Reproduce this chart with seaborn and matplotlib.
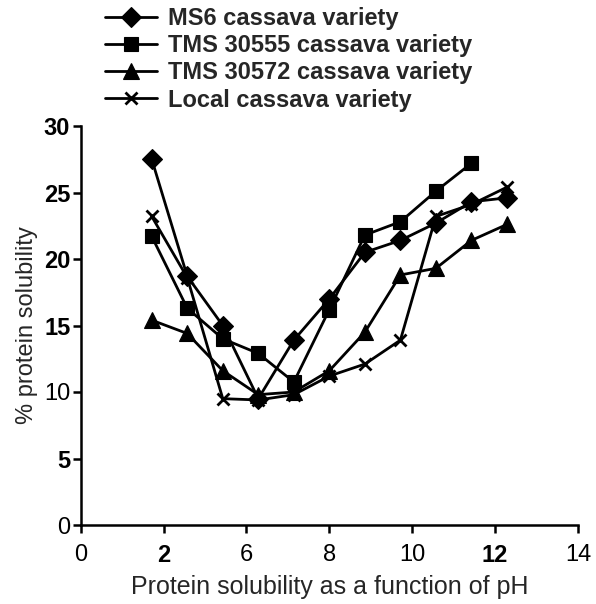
import numpy as np
import pandas as pd
import matplotlib
matplotlib.use("Agg")
import matplotlib.pyplot as plt
import seaborn as sns

# ---- data ----
ph = [2, 3, 4, 5, 6, 7, 8, 9, 10, 11, 12]
ms6 = [27.5, 18.7, 15.0, 9.5, 13.9, 17.0, 20.5, 21.4, 22.7, 24.3, 24.6]
tms30555 = [21.7, 16.3, 14.0, 12.9, 10.75, 16.2, 21.8, 22.8, 25.1, 27.2]
tms30572 = [15.4, 14.4, 11.6, 9.8, 10.0, 11.6, 14.5, 18.8, 19.3, 21.4, 22.6]
local = [23.2, 18.6, 9.5, 9.4, 9.8, 11.2, 12.1, 13.9, 23.2, 24.1, 25.4]

series_names = ["MS6 cassava variety", "TMS 30555 cassava variety",
                "TMS 30572 cassava variety", "Local cassava variety"]
series_values = [ms6, tms30555, tms30572, local]

xtick_labels = ["0", "2", "6", "8", "10", "12", "14"]
xtick_weights = ["normal", "bold", "normal", "normal", "normal", "bold", "normal"]
yticks = [0, 5, 10, 15, 20, 25, 30]
ytick_weights = ["normal", "bold", "normal", "bold", "bold", "bold", "bold"]

# ---- styles ----
markers = ["D", "s", "^", "x"]
msizes = [10, 10, 11.5, 8]

sns.set_style("ticks")
plt.rcParams["font.family"] = ["Liberation Sans", "DejaVu Sans"]

fig = plt.figure(figsize=(5.96, 6.04), dpi=100)
ax = fig.add_axes([80.7 / 596, 1 - 525 / 604, (578 - 80.7) / 596, (525 - 126) / 604])

for name, vals, mk, ms in zip(series_names, series_values, markers, msizes):
    df = pd.DataFrame({"pH": ph[:len(vals)], "solubility": vals})
    sns.lineplot(data=df, x="pH", y="solubility", ax=ax, color="black",
                 linewidth=2.0, marker=mk, markersize=ms,
                 markeredgecolor="black", markerfacecolor="black",
                 markeredgewidth=2.0 if mk == "x" else 0.8,
                 sort=False, label=name, clip_on=False)

ax.set_xlim(0, 14)
ax.set_ylim(0, 30)
ax.set_xticks(np.linspace(0, 14, len(xtick_labels)))
ax.set_xticklabels(xtick_labels)
ax.set_yticks(yticks)
ax.set_yticklabels([str(v) for v in yticks])
for lab, w in zip(ax.get_xticklabels(), xtick_weights):
    lab.set_fontweight(w)
for lab, w in zip(ax.get_yticklabels(), ytick_weights):
    lab.set_fontweight(w)

ax.tick_params(axis="both", labelsize=17, width=1.8, length=5.5, color="black",
               labelcolor="black", direction="out")
ax.tick_params(axis="x", pad=8)
ax.tick_params(axis="y", pad=2)

for s in ["top", "right"]:
    ax.spines[s].set_visible(False)
for s in ["left", "bottom"]:
    ax.spines[s].set_linewidth(1.8)
    ax.spines[s].set_color("black")

ax.set_xlabel("Protein solubility as a function of pH", fontsize=18, labelpad=6)
ax.set_ylabel("% protein solubility", fontsize=17, labelpad=4)

handles, labels = ax.get_legend_handles_labels()
ax.get_legend().remove()
fig.legend(handles, labels, loc="upper left",
           bbox_to_anchor=(105 / 596, 1 - 7 / 604), frameon=False,
           borderpad=0, borderaxespad=0, handlelength=2.2, handletextpad=0.45,
           labelspacing=0.18, prop=dict(weight="bold", size=17))

fig.savefig("out.png", dpi=100)
